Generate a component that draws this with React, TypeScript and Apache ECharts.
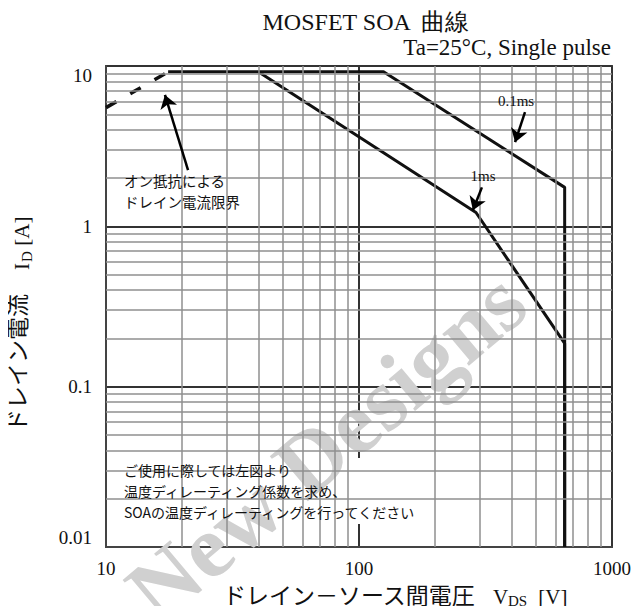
import React, { useEffect, useRef } from "react";
import * as echarts from "echarts";

// ---- data ----
const xTickLabels = [10, 100, 1000];
const yTickLabels = [0.01, 0.1, 1, 10];
const xMinorGrid = [20, 30, 40, 50, 60, 70, 80, 90, 200, 300, 400, 500, 600, 700, 800, 900];
const yMinorGrid = [0.02, 0.03, 0.04, 0.05, 0.06, 0.07, 0.08, 0.09, 0.2, 0.3, 0.4, 0.5, 0.6, 0.7, 0.8, 0.9, 2, 3, 4, 5, 6, 7, 8, 9];

const onResV = [10, 17.6];
const onResI = [5.5, 9.2];
const pulse01V = [17.6, 125, 650, 650];
const pulse01I = [9.2, 9.2, 1.75, 0.01];
const pulse1V = [40, 290, 650, 650];
const pulse1I = [9.2, 1.22, 0.186, 0.01];

// annotation arrows: [tailV, tailI, headV, headI]
const arrowOnRes = [21.1, 2.24, 17.1, 6.6];
const arrow01 = [453, 5.16, 414, 3.35];
const arrow1 = [306, 1.75, 282, 1.26];

const serif = '"Liberation Serif", "Times New Roman", serif';
const cjk = '"Noto Sans CJK JP", sans-serif';

const zip = (a: number[], b: number[]) => a.map((v, i) => [v, b[i]]);
const fmt = (v: number) => String(Number(v.toPrecision(3)));

export default function App() {
  const ref = useRef<HTMLDivElement>(null);
  useEffect(() => {
    if (!ref.current) return;
    const chart = echarts.init(ref.current, null, { renderer: "svg" });
    const arrowLine = (a: number[]) => [{ coord: [a[0], a[1]] }, { coord: [a[2], a[3]] }];
    const curveStyle = { color: "#111", width: 3 };
    chart.setOption({
      animation: false,
      backgroundColor: "#fff",
      grid: {
        left: 106,
        right: 29,
        top: 66,
        bottom: 67,
        show: true,
        borderColor: "#444",
        borderWidth: 2,
      },
      xAxis: {
        type: "log",
        logBase: 10,
        min: xTickLabels[0],
        max: xTickLabels[xTickLabels.length - 1],
        axisLine: { show: true, lineStyle: { color: "#444", width: 2 } },
        axisTick: { show: false },
        axisLabel: { fontFamily: serif, fontSize: 19, color: "#111", margin: 12, formatter: (v: number) => fmt(v) },
        splitLine: { show: true, lineStyle: { color: "#333", width: 2 } },
      },
      yAxis: {
        type: "log",
        logBase: 10,
        min: yTickLabels[0],
        max: yTickLabels[yTickLabels.length - 1],
        axisLine: { show: true, lineStyle: { color: "#444", width: 2 } },
        axisTick: { show: false },
        axisLabel: {
          fontFamily: serif,
          fontSize: 19,
          color: "#111",
          margin: 14,
          verticalAlignMinLabel: "bottom",
          verticalAlignMaxLabel: "top",
          formatter: (v: number) => fmt(v),
        },
        splitLine: { show: true, lineStyle: { color: "#333", width: 2 } },
      },
      series: [
        {
          type: "line",
          z: 1,
          data: [],
          silent: true,
          markLine: {
            silent: true,
            symbol: ["none", "none"],
            label: { show: false },
            lineStyle: { color: "#8f8f8f", width: 1.5, type: "solid" },
            data: [...xMinorGrid.map((v) => ({ xAxis: v })), ...yMinorGrid.map((v) => ({ yAxis: v }))],
          },
        },
        {
          type: "line",
          z: 4,
          data: zip(onResV, onResI),
          showSymbol: false,
          lineStyle: { color: "#111", width: 3.5, type: [12, 16] },
        },
        {
          type: "line",
          z: 4,
          data: zip(pulse01V, pulse01I),
          showSymbol: false,
          lineStyle: curveStyle,
        },
        {
          type: "line",
          z: 4,
          data: zip(pulse1V, pulse1I),
          showSymbol: false,
          lineStyle: curveStyle,
        },
        {
          type: "line",
          z: 6,
          data: [],
          markLine: {
            silent: true,
            symbol: ["none", "arrow"],
            symbolSize: 13,
            label: { show: false },
            lineStyle: { color: "#000", width: 2.5, type: "solid" },
            data: [arrowLine(arrowOnRes), arrowLine(arrow01), arrowLine(arrow1)],
          },
        },
      ],
      graphic: [
        // white boxes behind annotations
        { type: "rect", z: 2, shape: { x: 120, y: 171, width: 123, height: 41 }, style: { fill: "#fff" } },
        { type: "rect", z: 2, shape: { x: 494, y: 92, width: 45, height: 19 }, style: { fill: "#fff" } },
        { type: "rect", z: 2, shape: { x: 467, y: 167, width: 36, height: 19 }, style: { fill: "#fff" } },
        { type: "rect", z: 2, shape: { x: 120, y: 458, width: 307, height: 66 }, style: { fill: "#fff" } },
        // watermark
        {
          type: "text",
          z: 3,
          x: 326,
          y: 446,
          rotation: 0.7,
          style: {
            text: "New Designs",
            font: `bold 90px ${serif}`,
            fill: "#d0d0d0",
            align: "center",
            verticalAlign: "middle",
          },
        },
        // title
        {
          type: "text",
          z: 10,
          x: 366,
          y: 22,
          style: { text: "MOSFET SOA  曲線", font: `24px ${serif}`, fill: "#111", align: "center", verticalAlign: "middle" },
        },
        {
          type: "text",
          z: 10,
          x: 611,
          y: 47,
          style: { text: "Ta=25°C, Single pulse", font: `23px ${serif}`, fill: "#111", align: "right", verticalAlign: "middle" },
        },
        {
          type: "text",
          z: 10,
          x: 124,
          y: 191,
          style: {
            text: "オン抵抗による\nドレイン電流限界",
            font: `14.5px ${cjk}`,
            lineHeight: 21,
            fill: "#111",
            align: "left",
            verticalAlign: "middle",
          },
        },
        {
          type: "text",
          z: 10,
          x: 516,
          y: 101,
          style: { text: "0.1ms", font: `15px ${serif}`, fill: "#111", align: "center", verticalAlign: "middle" },
        },
        {
          type: "text",
          z: 10,
          x: 483,
          y: 176,
          style: { text: "1ms", font: `15px ${serif}`, fill: "#111", align: "center", verticalAlign: "middle" },
        },
        {
          type: "text",
          z: 10,
          x: 124,
          y: 491,
          style: {
            text: "ご使用に際しては左図より\n温度ディレーティング係数を求め、\nSOAの温度ディレーティングを行ってください",
            font: `14px ${cjk}`,
            lineHeight: 21,
            fill: "#111",
            align: "left",
            verticalAlign: "middle",
          },
        },
        // x axis title
        {
          type: "text",
          z: 10,
          x: 223,
          y: 594,
          style: { text: "ドレイン－ソース間電圧", font: `23px ${cjk}`, fill: "#111", align: "left", verticalAlign: "middle" },
        },
        {
          type: "text",
          z: 10,
          x: 493,
          y: 597,
          style: { text: "V", font: `21px ${serif}`, fill: "#111", align: "left", verticalAlign: "middle" },
        },
        {
          type: "text",
          z: 10,
          x: 508,
          y: 601,
          style: { text: "DS", font: `15px ${serif}`, fill: "#111", align: "left", verticalAlign: "middle" },
        },
        {
          type: "text",
          z: 10,
          x: 533,
          y: 597,
          style: { text: " [V]", font: `21px ${serif}`, fill: "#111", align: "left", verticalAlign: "middle" },
        },
        // y axis title (rotated)
        {
          type: "group",
          x: 22,
          y: 432,
          rotation: Math.PI / 2,
          children: [
            {
              type: "text",
              z: 10,
              x: 0,
              y: -6,
              style: { text: "ドレイン電流", font: `23px ${cjk}`, fill: "#111", align: "left", verticalAlign: "middle" },
            },
            {
              type: "text",
              z: 10,
              x: 162,
              y: 0,
              style: { text: "I", font: `21px ${serif}`, fill: "#111", align: "left", verticalAlign: "middle" },
            },
            {
              type: "text",
              z: 10,
              x: 170,
              y: 5,
              style: { text: "D", font: `15px ${serif}`, fill: "#111", align: "left", verticalAlign: "middle" },
            },
            {
              type: "text",
              z: 10,
              x: 181,
              y: 0,
              style: { text: " [A]", font: `21px ${serif}`, fill: "#111", align: "left", verticalAlign: "middle" },
            },
          ],
        },
      ],
    });
    return () => chart.dispose();
  }, []);
  return <div ref={ref} style={{ width: 641, height: 614, margin: -8 }} />;
}
